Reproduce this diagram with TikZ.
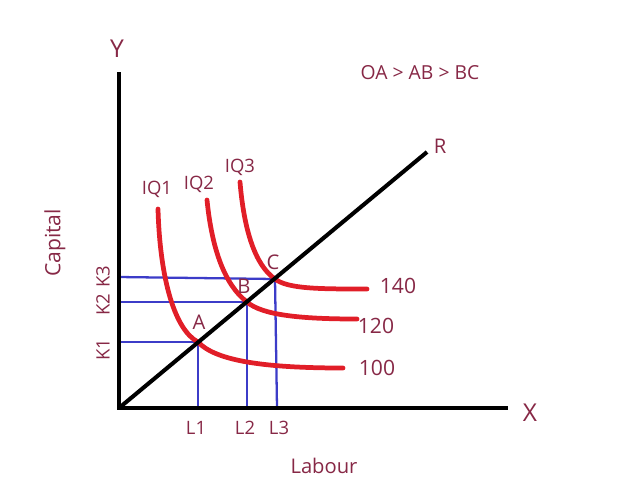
\documentclass[tikz,border=0pt]{standalone}
\usepackage{fontspec}
\setmainfont{Open Sans}
\usepackage{xcolor}
\definecolor{labelred}{RGB}{135,40,70}
\definecolor{curvered}{RGB}{225,30,40}
\definecolor{guideblue}{RGB}{60,60,200}
\begin{document}
\begin{tikzpicture}[x=0.02cm,y=-0.02cm,
  axis/.style={line width=2.3pt},
  iq/.style={line width=2.7pt,curvered,line cap=round},
  guide/.style={line width=1.3pt,guideblue},
  lbl/.style={text=labelred,inner sep=0pt,font=\fontsize{10.5}{12}\selectfont},
  big/.style={lbl,font=\fontsize{12}{14}\selectfont}]
\useasboundingbox (0,0) rectangle (617,491);
% points
\coordinate (O) at (119,408);
\coordinate (Ytop) at (119,72);
\coordinate (Xend) at (508,408);
\coordinate (Rend) at (427,152);
\coordinate (A) at (198,342);
\coordinate (B) at (247,302);
\coordinate (C) at (275,279);
\coordinate (K1) at (119,342);
\coordinate (K2) at (119,302);
\coordinate (K3) at (119,277);
\coordinate (L1) at (198,408);
\coordinate (L2) at (247,408);
\coordinate (L3) at (277,408);
% blue guides
\draw[guide] (K1) -- (A) -- (L1);
\draw[guide] (K2) -- (B) -- (L2);
\draw[guide] (K3) -- (C) -- (L3);
% isoquants
\coordinate (s1) at (158,209); \coordinate (e1) at (343,368);
\coordinate (s2) at (207,200); \coordinate (e2) at (357,319);
\coordinate (s3) at (240,182); \coordinate (e3) at (367,289);
\draw[iq] (s1) .. controls (160,280) and (175,330) .. (A) .. controls (215,360) and (260,368) .. (e1);
\draw[iq] (s2) .. controls (212,250) and (225,285) .. (B) .. controls (262,315) and (300,319) .. (e2);
\draw[iq] (s3) .. controls (244,230) and (255,265) .. (C) .. controls (288,289) and (320,289) .. (e3);
% axes and ray
\draw[axis] (Ytop) -- (O) -- (Xend);
\draw[axis] (O) -- (Rend);
% labels
\node[lbl,font=\fontsize{14}{16}\selectfont] (ylab) at (117,49) {Y};
\node[lbl,font=\fontsize{14}{16}\selectfont] (xlab) at (530,413) {X};
\node[lbl,font=\fontsize{11.5}{13}\selectfont] (rlab) at (440,146) {R};
\node[lbl,font=\fontsize{11}{13}\selectfont] (rule) at (420,73) {OA > AB > BC};
\node[lbl,font=\fontsize{11.5}{13}\selectfont] (alab) at (199,322) {A};
\node[lbl,font=\fontsize{11.5}{13}\selectfont] (blab) at (244,286) {B};
\node[lbl,font=\fontsize{11.5}{13}\selectfont] (clab) at (273,262) {C};
\node[lbl] (iq1) at (157,189) {IQ1};
\node[lbl] (iq2) at (199,184) {IQ2};
\node[lbl] (iq3) at (240,167) {IQ3};
\node[big] (q100) at (377,368) {100};
\node[big] (q120) at (376,326) {120};
\node[big] (q140) at (398,286) {140};
\node[lbl] (l1) at (196,428) {L1};
\node[lbl] (l2) at (245,428) {L2};
\node[lbl] (l3) at (279,428) {L3};
\node[lbl,rotate=90] (k1) at (103,350) {K1};
\node[lbl,rotate=90] (k2) at (103,305) {K2};
\node[lbl,rotate=90] (k3) at (103,277) {K3};
\node[lbl,rotate=90,font=\fontsize{12}{14}\selectfont] (cap) at (55,243) {Capital};
\node[lbl,font=\fontsize{11.5}{13}\selectfont] (lab) at (324,466) {Labour};
\end{tikzpicture}
\end{document}
